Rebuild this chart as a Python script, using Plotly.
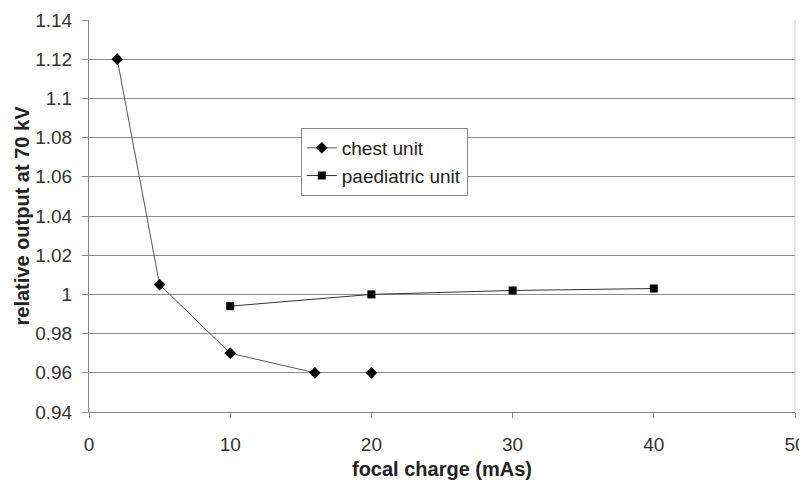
import plotly.graph_objects as go

chest_x = [2, 5, 10, 16, None, 20]
chest_y = [1.12, 1.005, 0.97, 0.96, None, 0.96]
paed_x = [10, 20, 30, 40]
paed_y = [0.994, 1.0, 1.002, 1.003]
y_ticks = [0.94, 0.96, 0.98, 1.0, 1.02, 1.04, 1.06, 1.08, 1.1, 1.12, 1.14]
y_tick_text = ["0.94", "0.96", "0.98", "1", "1.02", "1.04", "1.06", "1.08", "1.1", "1.12", "1.14"]
x_ticks = [0, 10, 20, 30, 40, 50]

fig = go.Figure()
fig.add_trace(go.Scatter(x=chest_x, y=chest_y, name="chest unit", mode="lines+markers",
                         connectgaps=False,
                         line=dict(color="#555555", width=1),
                         marker=dict(symbol="diamond", size=9, color="black")))
fig.add_trace(go.Scatter(x=paed_x, y=paed_y, name="paediatric unit", mode="lines+markers",
                         line=dict(color="#333333", width=1),
                         marker=dict(symbol="square", size=8, color="black")))

fig.add_shape(type="line", xref="paper", yref="paper", x0=1, x1=1, y0=0, y1=1,
              line=dict(color="#cccccc", width=1))

# page body has an 8px default margin, so the figure is sized to fit the window
fig.update_layout(
    width=799, height=475,
    margin=dict(l=81, r=12, t=12, b=71),
    paper_bgcolor="white", plot_bgcolor="white",
    font=dict(family="Liberation Sans, Arial, sans-serif", size=19, color="#333333"),
    legend=dict(x=0.30, y=0.7245, xanchor="left", yanchor="top",
                bgcolor="white", bordercolor="#888888", borderwidth=1,
                font=dict(size=19, color="#222222"), tracegroupgap=0, itemwidth=30),
    xaxis=dict(range=[0, 50], tickvals=x_ticks, showgrid=False, zeroline=False,
               showline=True, linecolor="#888888", linewidth=1, automargin=False,
               ticks="outside", ticklen=5, tickcolor="#888888", ticklabelstandoff=10,
               title=dict(text="<b>focal charge (mAs)</b>", font=dict(size=20, color="#222222"), standoff=8)),
    yaxis=dict(range=[0.94, 1.14], tickvals=y_ticks, ticktext=y_tick_text,
               showgrid=True, gridcolor="#8c8c8c", gridwidth=1, zeroline=False,
               showline=True, linecolor="#888888", linewidth=1, automargin=False,
               ticks="outside", ticklen=6, tickcolor="#888888", ticklabelstandoff=6,
               title=dict(text="<b>relative output at 70 kV</b>", font=dict(size=20, color="#222222"), standoff=0)),
)

fig.write_html("out.html")
